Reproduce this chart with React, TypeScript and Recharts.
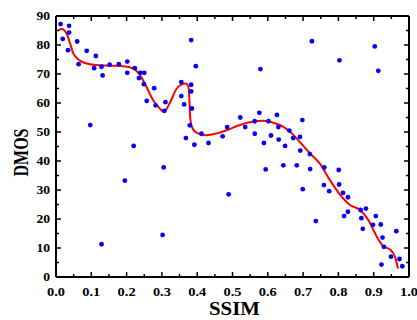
import React from "react";
import { ComposedChart, XAxis, YAxis, Scatter, Line } from "recharts";

const scatterX = [
  0.013, 0.037, 0.037, 0.019, 0.034, 0.060, 0.064, 0.087, 0.113, 0.108,
  0.097, 0.129, 0.132, 0.152, 0.178, 0.202, 0.202, 0.223, 0.235, 0.239,
  0.250, 0.249, 0.278, 0.257, 0.282, 0.307, 0.310, 0.220, 0.383, 0.396,
  0.355, 0.383, 0.383, 0.355, 0.363, 0.385, 0.379, 0.368, 0.392, 0.412,
  0.432, 0.472, 0.485, 0.522, 0.536, 0.563, 0.563, 0.576, 0.579, 0.589,
  0.602, 0.609, 0.626, 0.630, 0.631, 0.649, 0.661, 0.725, 0.803, 0.903,
  0.913, 0.698, 0.672, 0.691, 0.195, 0.305, 0.129, 0.302, 0.489, 0.594,
  0.644, 0.682, 0.692, 0.719, 0.720, 0.699, 0.736, 0.760, 0.759, 0.774,
  0.801, 0.802, 0.813, 0.827, 0.827, 0.816, 0.863, 0.878, 0.865, 0.869,
  0.906, 0.920, 0.898, 0.925, 0.929, 0.964, 0.949, 0.973, 0.922, 0.981,
];
const scatterY = [
  87.2, 86.6, 84.3, 82.1, 78.2, 81.2, 73.4, 78.0, 76.2, 72.0,
  52.4, 72.5, 69.5, 73.2, 73.4, 74.3, 70.4, 72.0, 68.6, 70.4,
  70.4, 66.5, 65.1, 60.7, 59.2, 57.3, 60.3, 45.2, 81.7, 72.7,
  67.2, 66.3, 64.0, 62.4, 59.5, 58.1, 52.3, 47.9, 45.6, 49.4,
  46.2, 48.5, 51.7, 55.0, 51.7, 49.4, 53.7, 56.6, 71.7, 46.2,
  53.7, 48.8, 55.9, 51.7, 47.4, 45.2, 50.5, 81.3, 74.7, 79.5,
  71.1, 54.1, 47.9, 48.3, 33.2, 37.8, 11.3, 14.5, 28.5, 37.1,
  38.5, 38.5, 43.6, 42.4, 37.2, 30.3, 19.3, 37.8, 31.7, 29.6,
  36.9, 31.9, 29.0, 27.5, 22.5, 21.0, 23.1, 23.6, 20.3, 16.6,
  21.0, 18.1, 18.0, 13.6, 10.4, 15.8, 7.0, 6.2, 4.3, 3.7,
];

const fitX = [
  0.007, 0.016, 0.030, 0.040, 0.049, 0.068, 0.096, 0.143, 0.191, 0.219,
  0.238, 0.256, 0.275, 0.294, 0.306, 0.323, 0.342, 0.356, 0.368, 0.375,
  0.378, 0.380, 0.385, 0.399, 0.426, 0.455, 0.483, 0.521, 0.559, 0.587,
  0.615, 0.644, 0.663, 0.686, 0.720, 0.747, 0.776, 0.804, 0.833, 0.861,
  0.885, 0.909, 0.927, 0.946, 0.960, 0.969,
];
const fitY = [
  85.1, 85.5, 84.0, 80.5, 77.1, 74.6, 73.4, 72.9, 72.7, 71.9,
  69.6, 65.6, 61.0, 58.1, 57.0, 60.2, 65.0, 66.4, 66.7, 65.6,
  61.0, 55.2, 51.8, 49.7, 48.9, 49.5, 50.6, 52.4, 53.6, 53.9,
  53.2, 51.8, 50.1, 47.2, 42.6, 39.2, 33.4, 28.5, 24.8, 23.1,
  19.6, 13.9, 10.6, 9.5, 7.0, 2.9,
];

const xTicks = [0, 0.05, 0.1, 0.15, 0.2, 0.25, 0.3, 0.35, 0.4, 0.45, 0.5, 0.55, 0.6, 0.65, 0.7, 0.75, 0.8, 0.85, 0.9, 0.95, 1.0];
const yTicks = [0, 5, 10, 15, 20, 25, 30, 35, 40, 45, 50, 55, 60, 65, 70, 75, 80, 85, 90];

const points = scatterX.map((x, i) => ({ x, y: scatterY[i] }));
const curve = fitX.map((x, i) => ({ x, y: fitY[i] }));

const FONT = "'Liberation Serif', 'Times New Roman', serif";

const isMajorX = (v: number) => Math.round(v * 100) % 10 === 0;
const isMajorY = (v: number) => Math.round(v) % 10 === 0;

const BottomTick = (props: any) => {
  const { x, y, payload } = props;
  const v = payload.value as number;
  const major = isMajorX(v);
  return (
    <g>
      <line x1={x} x2={x} y1={y} y2={y - (major ? 5 : 3)} stroke="#000" strokeWidth={1.5} />
      {major && (
        <text x={x} y={y + 18.5} textAnchor="middle" fontFamily={FONT} fontWeight="bold" fontSize={12} fill="#000" textLength={18} lengthAdjust="spacingAndGlyphs">
          {v.toFixed(1)}
        </text>
      )}
    </g>
  );
};

const TopTick = (props: any) => {
  const { x, y, payload } = props;
  const major = isMajorX(payload.value);
  return <line x1={x} x2={x} y1={y} y2={y + (major ? 5 : 3)} stroke="#000" strokeWidth={1.5} />;
};

const LeftTick = (props: any) => {
  const { x, y, payload } = props;
  const v = payload.value as number;
  const major = isMajorY(v);
  const label = String(v);
  return (
    <g>
      <line x1={x} x2={x + (major ? 5 : 3)} y1={y} y2={y} stroke="#000" strokeWidth={1.5} />
      {major && (
        <text x={x - 6} y={y + 4} textAnchor="end" fontFamily={FONT} fontWeight="bold" fontSize={12} fill="#000" textLength={6.8 * label.length} lengthAdjust="spacingAndGlyphs">
          {label}
        </text>
      )}
    </g>
  );
};

const RightTick = (props: any) => {
  const { x, y, payload } = props;
  const major = isMajorY(payload.value);
  return <line x1={x} x2={x - (major ? 5 : 3)} y1={y} y2={y} stroke="#000" strokeWidth={1.5} />;
};

const XTitle = (props: any) => {
  const vb = props.viewBox || { x: 56, y: 277, width: 353 };
  return (
    <text x={vb.x + vb.width / 2 + 2} y={vb.y + 37.5} textAnchor="middle" fontFamily={FONT} fontWeight="bold" fontSize={18.5} fill="#000" textLength={51} lengthAdjust="spacingAndGlyphs">
      SSIM
    </text>
  );
};

const YTitle = () => {
  const cx = 28;
  const cy = 152.5;
  return (
    <text x={cx} y={cy} transform={`rotate(-90 ${cx} ${cy})`} textAnchor="middle" fontFamily={FONT} fontWeight="bold" fontSize={22} fill="#000" textLength={48} lengthAdjust="spacingAndGlyphs">
      DMOS
    </text>
  );
};

const Dot = (props: any) => {
  const { cx, cy } = props;
  if (cx == null || cy == null) return null;
  return <circle cx={cx} cy={cy} r={2.4} fill="#0000ff" />;
};

const NoDot = () => <g />;

const axisLine = { stroke: "#000", strokeWidth: 2 };

export default function App() {
  return (
    <div style={{ position: "absolute", left: 0, top: 0, width: 417, height: 320, background: "#fff" }}>
      <ComposedChart width={417} height={320} margin={{ top: 15, right: 7, bottom: 0, left: 0 }}>
        <XAxis
          xAxisId="b"
          dataKey="x"
          type="number"
          domain={[0, 1]}
          allowDataOverflow
          ticks={xTicks}
          interval={0}
          tick={<BottomTick />}
          tickLine={false}
          tickSize={0}
          tickMargin={0}
          axisLine={axisLine}
          height={43}
          label={{ content: <XTitle /> }}
        />
        <XAxis
          xAxisId="t"
          orientation="top"
          dataKey="x"
          type="number"
          domain={[0, 1]}
          allowDataOverflow
          ticks={xTicks}
          interval={0}
          tick={<TopTick />}
          tickLine={false}
          tickSize={0}
          tickMargin={0}
          axisLine={axisLine}
          height={1}
        />
        <YAxis
          yAxisId="l"
          dataKey="y"
          type="number"
          domain={[0, 90]}
          allowDataOverflow
          ticks={yTicks}
          interval={0}
          tick={<LeftTick />}
          tickLine={false}
          tickSize={0}
          tickMargin={0}
          axisLine={axisLine}
          width={56}
          label={{ content: <YTitle /> }}
        />
        <YAxis
          yAxisId="r"
          orientation="right"
          dataKey="y"
          type="number"
          domain={[0, 90]}
          allowDataOverflow
          ticks={yTicks}
          interval={0}
          tick={<RightTick />}
          tickLine={false}
          tickSize={0}
          tickMargin={0}
          axisLine={axisLine}
          width={1}
        />
        <Scatter xAxisId="t" yAxisId="r" data={points} dataKey="y" shape={<NoDot />} isAnimationActive={false} />
        <Scatter xAxisId="b" yAxisId="l" data={points} dataKey="y" shape={<Dot />} isAnimationActive={false} />
        <Line xAxisId="b" yAxisId="l" data={curve} dataKey="y" type="monotone" stroke="#ff0000" strokeWidth={2} dot={false} activeDot={false} isAnimationActive={false} />
      </ComposedChart>
    </div>
  );
}
